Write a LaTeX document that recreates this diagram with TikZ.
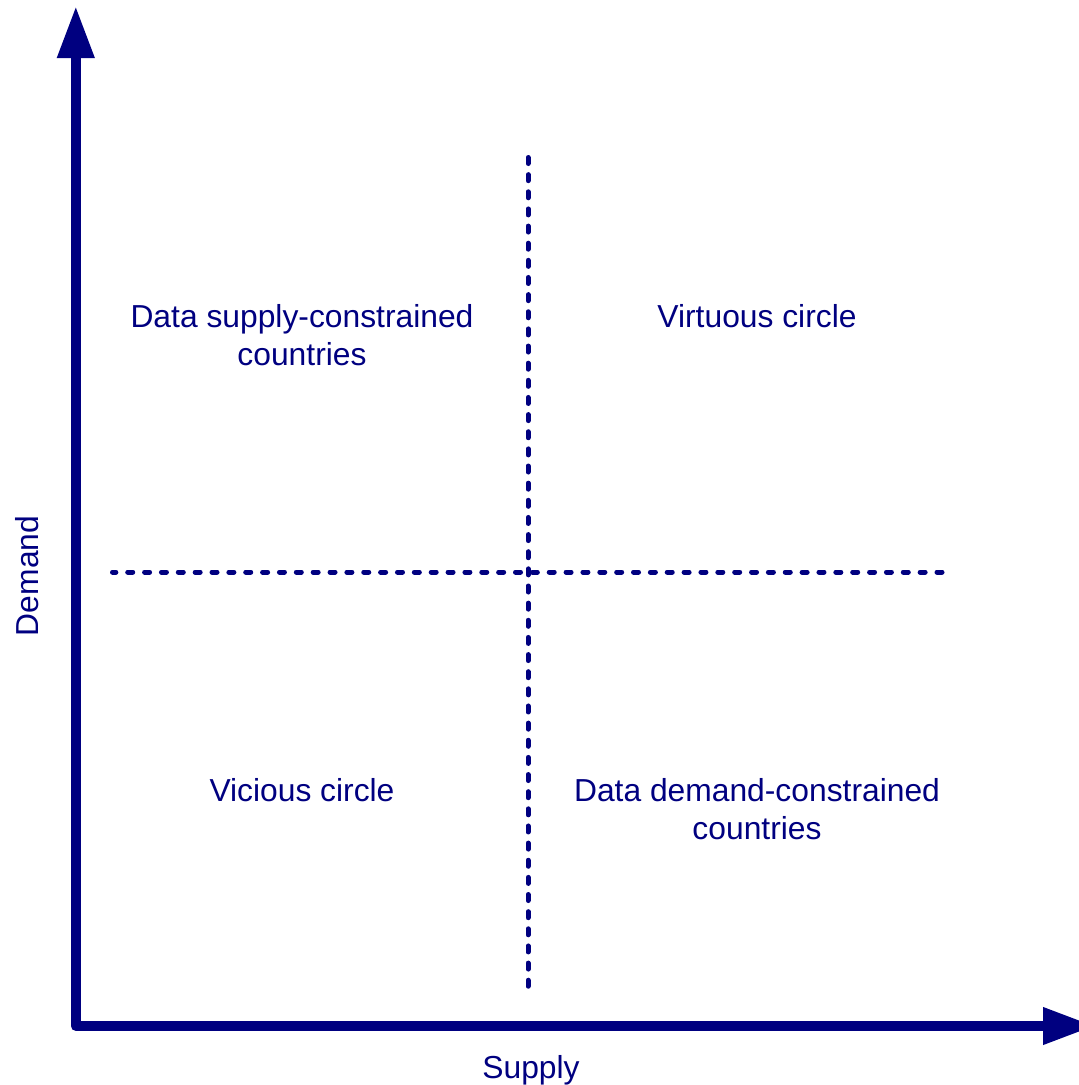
\documentclass[tikz,border=0pt]{standalone}
\usepackage{fontspec}
\setmainfont{Liberation Sans}
\usetikzlibrary{arrows.meta}
\definecolor{navyblue}{RGB}{0,0,128}
\begin{document}
\begin{tikzpicture}[x=1pt,y=-1pt,
  axis/.style={draw=navyblue,line width=10pt,line join=round,
    arrows={Triangle[length=52pt,width=35pt]-Triangle[length=52pt,width=35pt]}},
  divider/.style={draw=navyblue,line width=5pt,line cap=round},
  lbl/.style={text=navyblue,font=\fontsize{31.8}{38}\selectfont,align=center,inner sep=0pt,anchor=base}]
\useasboundingbox (0,0) rectangle (1079,1085);
\coordinate (ytip) at (75.8,6);
\coordinate (origin) at (75.8,1026);
\coordinate (xtip) at (1095,1026);
\draw[axis] (ytip) -- (origin) -- (xtip);
\coordinate (vtop) at (528,157.5);
\coordinate (vbot) at (528,987.5);
\coordinate (hleft) at (112.5,572);
\coordinate (hright) at (942,572);
\draw[divider,dash pattern=on 6pt off 11.14pt] (vtop) -- (vbot);
\draw[divider,dash pattern=on 5pt off 11.86pt] (hright) -- (hleft);
\node[lbl] (supplyconstrained) at (302,365) {Data supply-constrained\\countries};
\node[lbl] (virtuous) at (757,327) {Virtuous circle};
\node[lbl] (vicious) at (302,801) {Vicious circle};
\node[lbl] (demandconstrained) at (757,839) {Data demand-constrained\\countries};
\node[lbl] (supply) at (531,1078) {Supply};
\node[lbl,rotate=90] (demand) at (38,576) {Demand};
\end{tikzpicture}
\end{document}
